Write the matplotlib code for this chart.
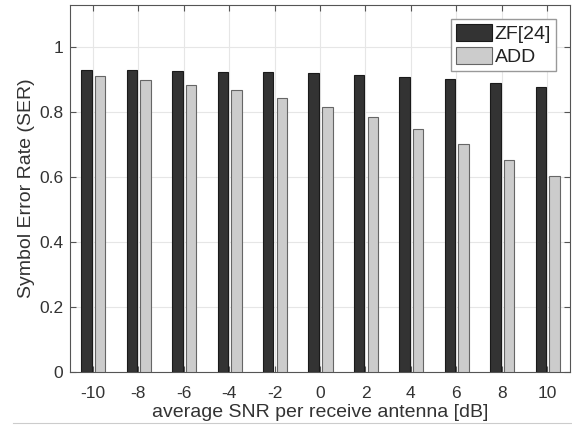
import numpy as np
import matplotlib.pyplot as plt
from matplotlib.ticker import FuncFormatter

plt.rcParams['font.family'] = ['Liberation Sans', 'DejaVu Sans']
plt.rcParams['axes.unicode_minus'] = False

snr = [-10, -8, -6, -4, -2, 0, 2, 4, 6, 8, 10]
ser_zf = [0.929, 0.929, 0.927, 0.925, 0.923, 0.920, 0.915, 0.909, 0.902, 0.891, 0.878]
ser_add = [0.911, 0.899, 0.884, 0.868, 0.844, 0.816, 0.785, 0.747, 0.702, 0.652, 0.604]

txt = '#333333'
fig = plt.figure(figsize=(5.72, 4.3), dpi=100)
ax = fig.add_axes([0.1224, 0.1349, 0.8741, 0.8535])

x = np.array(snr, dtype=float)
w = 0.46
ax.bar(x - 0.28, ser_zf, width=w, color='#333333', edgecolor='#1a1a1a',
       linewidth=0.8, label='ZF[24]', zorder=3)
ax.bar(x + 0.32, ser_add, width=w, color='#cccccc', edgecolor='#666666',
       linewidth=0.8, label='ADD', zorder=3)

ax.set_xlim(-11, 11)
ax.set_ylim(0, 1.13)
ax.set_xticks(snr)
ax.set_yticks([0, 0.2, 0.4, 0.6, 0.8, 1.0])
ax.yaxis.set_major_formatter(FuncFormatter(lambda v, p: f'{v:g}'))
ax.grid(True, color='#e6e6e6', linewidth=0.8, zorder=0)
ax.set_axisbelow(True)
ax.tick_params(direction='in', top=True, right=True, length=4,
               colors='#555555', labelcolor=txt, labelsize=12.5)
ax.tick_params(axis='x', pad=10)
ax.tick_params(axis='y', pad=5)
for s in ax.spines.values():
    s.set_color('#555555')
    s.set_linewidth(0.8)

ax.set_xlabel('average SNR per receive antenna [dB]', fontsize=14, color=txt, labelpad=2)
ax.set_ylabel('Symbol Error Rate (SER)', fontsize=14, color=txt, labelpad=3)

leg = ax.legend(loc='upper right', bbox_to_anchor=(0.972, 0.962), fontsize=14,
                fancybox=False, framealpha=1, edgecolor='#999999',
                handlelength=1.85, handleheight=0.95, handletextpad=0.15,
                borderpad=0.25, labelspacing=0.2, borderaxespad=0)
for t in leg.get_texts():
    t.set_color('#222222')

fig.add_artist(plt.Line2D([0.022, 1.0], [0.016, 0.016], color='#cccccc', linewidth=0.8))

fig.savefig('out.png', dpi=100)
